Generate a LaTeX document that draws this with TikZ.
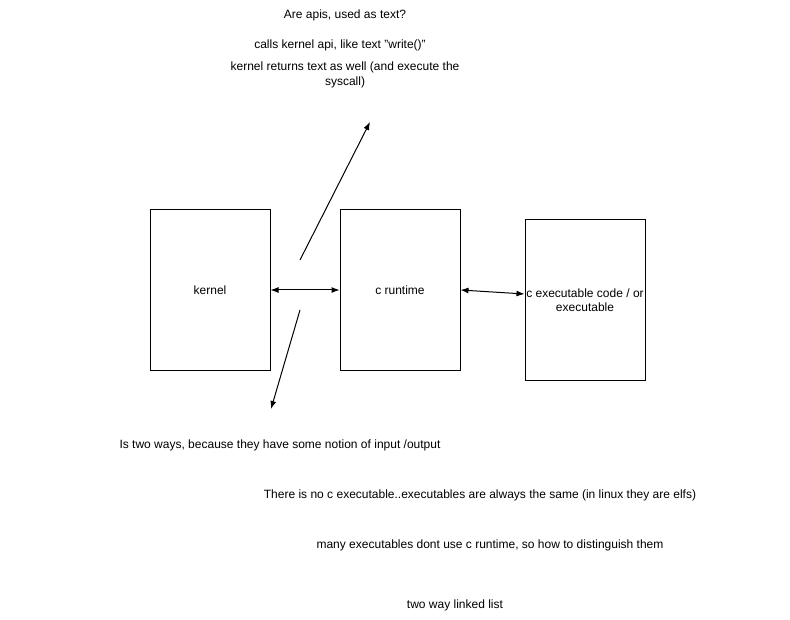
\documentclass[tikz,border=0pt]{standalone}
\usepackage{fontspec}
\setmainfont{Liberation Sans}
\usepackage{xcolor}
\usepackage{tikz}
\usetikzlibrary{arrows.meta}

\begin{document}
\begin{tikzpicture}[x=1pt,y=-1pt,>={Latex[length=8pt,width=6pt]},line width=1pt,
    block/.style={draw,minimum width=120pt,minimum height=160pt,align=center,inner sep=1pt,font=\fontsize{12}{14}\selectfont},
    note/.style={align=center,font=\fontsize{12}{15}\selectfont}]
    \useasboundingbox (0,0) rectangle (790,620);
    \node[block] (kernel) at (210,290) {kernel};
    \node[block] (runtime) at (400,290) {c runtime};
    \node[block] (exe) at (585,300) {c executable code / or\\executable};
    \node[note] (apis) at (345,15) {Are apis, used as text?};
    \node[note] (calls) at (340,45) {calls kernel api, like text "write()"};
    \node[note] (returns) at (345,75) {kernel returns text as well (and execute the\\syscall)};
    \node[note] (twoways) at (280,445) {Is two ways, because they have some notion of input /output};
    \node[note] (noexe) at (480,495) {There is no c executable..executables are always the same (in linux they are elfs)};
    \node[note] (many) at (490,545) {many executables dont use c runtime, so how to distinguish them};
    \node[note] (linked) at (455,605) {two way linked list};
    \coordinate (upfrom) at (300,260);
    \coordinate (upto) at (370,122);
    \coordinate (downfrom) at (300,310);
    \coordinate (downto) at (271,409);
    \draw [<->] (kernel.east) -- (runtime.west);
    \draw [<->] (runtime.east) -- (exe.west |- 0,294);
    \draw [->] (upfrom) -- (upto);
    \draw [->] (downfrom) -- (downto);
\end{tikzpicture}
\end{document}
